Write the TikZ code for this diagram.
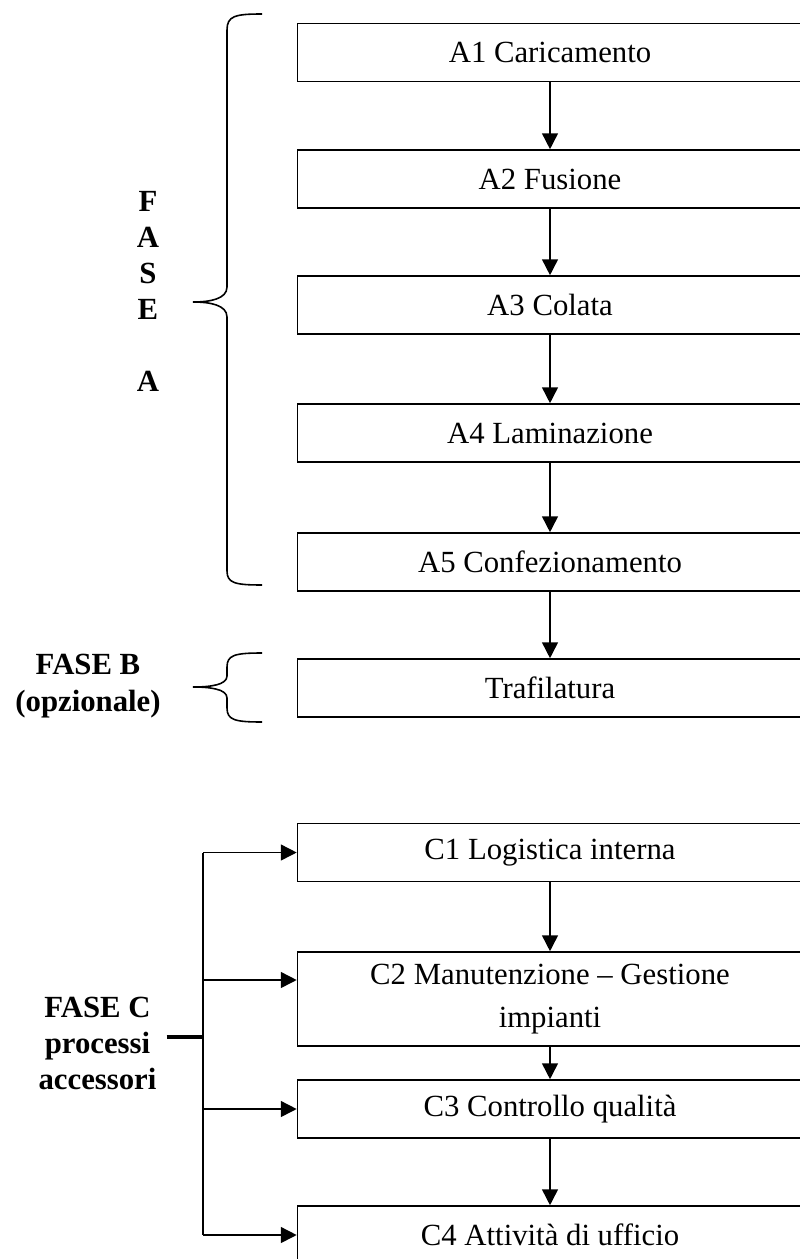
\documentclass[tikz,border=0pt]{standalone}
\usepackage{fontspec}
\setmainfont{Liberation Serif}
\usetikzlibrary{arrows.meta}

\begin{document}
\begin{tikzpicture}
	[every node/.style={font=\fontsize{17.5}{21}\selectfont},
	 fase/.style={draw,line width=0.9pt,minimum width=10.1cm,minimum height=1.16cm,align=center},
	 lbl/.style={align=center,font=\fontsize{17.5}{20.5}\selectfont\bfseries},
	 flow/.style={-{Triangle[length=9pt,width=9pt]},line width=0.9pt}]
	\clip (0,0) rectangle (16,-25.18);
	% fase A
	\node[fase] (A1) at (11.0,-1.05) {A1 Caricamento};
	\node[fase] (A2) at (11.0,-3.58) {A2 Fusione};
	\node[fase] (A3) at (11.0,-6.10) {A3 Colata};
	\node[fase] (A4) at (11.0,-8.66) {A4 Laminazione};
	\node[fase] (A5) at (11.0,-11.24) {A5 Confezionamento};
	% fase B
	\node[fase] (B1) at (11.0,-13.76) {Trafilatura};
	% fase C
	\node[fase] (C1) at (11.0,-17.05) {C1 Logistica interna};
	\node[fase,minimum height=1.88cm,font=\fontsize{17.5}{24}\selectfont] (C2) at (11.0,-19.98) {C2 Manutenzione -- Gestione\\impianti};
	\node[fase] (C3) at (11.0,-22.18) {C3 Controllo qualità};
	\node[fase] (C4) at (11.0,-24.70) {C4 Attività di ufficio};
	\path[flow]
	(A1) edge (A2)
	(A2) edge (A3)
	(A3) edge (A4)
	(A4) edge (A5)
	(A5) edge (B1)
	(C1) edge (C2)
	(C2) edge (C3)
	(C3) edge (C4);
	% labels
	\node[lbl] (faseA) at (2.96,-5.83) {F\\A\\S\\E\\[20.5pt]A};
	\node[lbl,font=\fontsize{17.5}{21.5}\selectfont\bfseries] (faseB) at (1.76,-13.72) {FASE B\\(opzionale)};
	\node[lbl] (faseC) at (1.95,-20.86) {FASE C\\processi\\accessori};
	% graffe
	\draw[line width=0.9pt] (5.24,-0.28) .. controls (4.7,-0.28) and (4.54,-0.32) .. (4.54,-0.6)
	-- (4.54,-5.74) .. controls (4.54,-5.98) and (4.2,-6.04) .. (3.86,-6.04)
	.. controls (4.2,-6.04) and (4.54,-6.1) .. (4.54,-6.34)
	-- (4.54,-11.42) .. controls (4.54,-11.66) and (4.7,-11.7) .. (5.24,-11.7);
	\draw[line width=0.9pt] (5.24,-13.06) .. controls (4.7,-13.06) and (4.54,-13.1) .. (4.54,-13.34)
	-- (4.54,-13.52) .. controls (4.54,-13.7) and (4.2,-13.74) .. (3.86,-13.74)
	.. controls (4.2,-13.74) and (4.54,-13.78) .. (4.54,-13.96)
	-- (4.54,-14.16) .. controls (4.54,-14.4) and (4.7,-14.44) .. (5.24,-14.44);
	% collettore fase C
	\coordinate (bus) at (4.06,-20.74);
	\coordinate (top) at (4.06,-17.05);
	\coordinate (bot) at (4.06,-24.70);
	\draw[line width=1.8pt] ([xshift=0.08cm]faseC.east |- bus) -- (bus);
	\draw[line width=0.9pt] (top) -- (bot);
	\draw[flow] (top) -- (C1.west);
	\draw[flow] ([yshift=0.38cm]C2.west -| bus) -- ([yshift=0.38cm]C2.west);
	\draw[flow] (C3.west -| bus) -- (C3.west);
	\draw[flow] (bot) -- (C4.west);
\end{tikzpicture}
\end{document}
